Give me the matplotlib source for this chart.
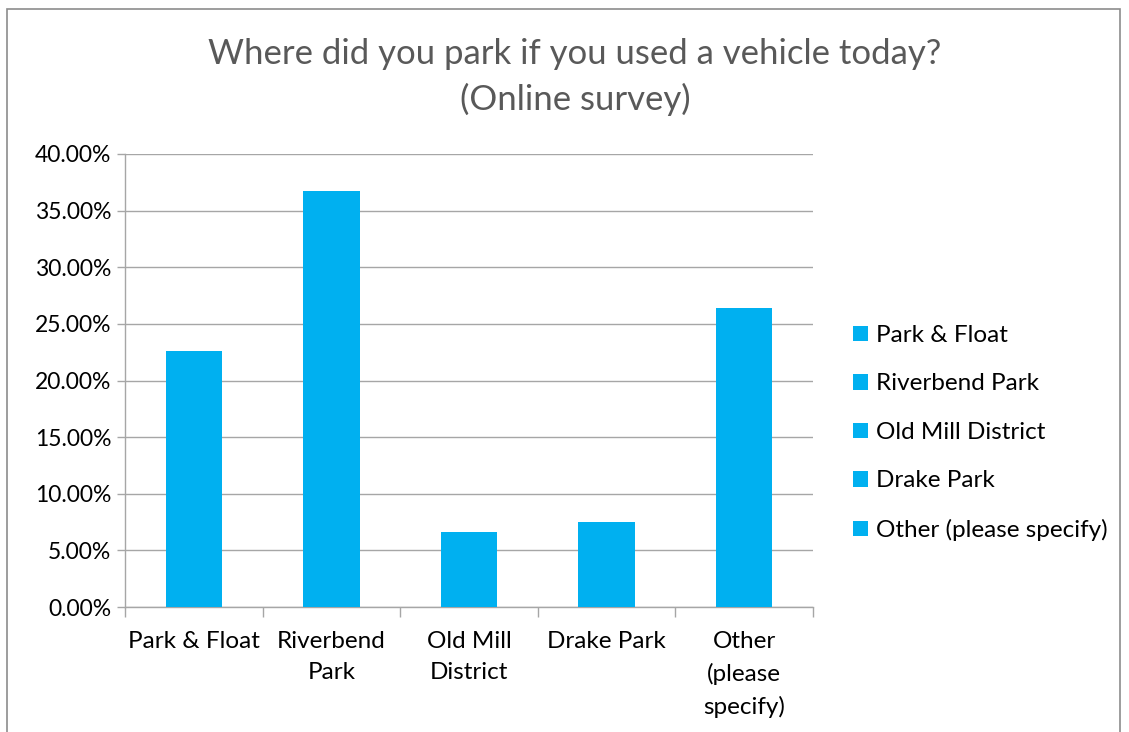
import matplotlib
matplotlib.use("Agg")
import matplotlib.pyplot as plt
from matplotlib.patches import Rectangle
from matplotlib.ticker import FuncFormatter, MultipleLocator

# survey answers (share of respondents, %)
categories = ["Park & Float", "Riverbend Park", "Old Mill District", "Drake Park", "Other (please specify)"]
tick_labels = ["Park & Float", "Riverbend\nPark", "Old Mill\nDistrict", "Drake Park", "Other\n(please\nspecify)"]
shares = [22.6, 36.7, 6.6, 7.5, 26.4]

bar_color = "#00B0F0"
grid_color = "#A6A6A6"
plt.rcParams["font.family"] = ["Lato", "DejaVu Sans"]

W, H = 1129, 732
fig = plt.figure(figsize=(W / 100, H / 100), dpi=100)
fig.patch.set_facecolor("white")

# outer chart frame
fig.add_artist(Rectangle((7 / W, -0.1), (1120 - 7) / W, 1.1 - 9 / H,
                         transform=fig.transFigure, fill=False,
                         edgecolor="#8C8C8C", linewidth=1.2))

ax = fig.add_axes([125 / W, 1 - 607 / H, (813 - 125) / W, (607 - 154) / H])
x = list(range(len(categories)))
for i, (cat, v) in enumerate(zip(categories, shares)):
    ax.bar(i, v, width=0.41, color=bar_color, label=cat, zorder=3)

ax.set_xlim(-0.5, len(categories) - 0.5)
ax.set_ylim(0, 40)
ax.yaxis.set_major_locator(MultipleLocator(5))
ax.yaxis.set_major_formatter(FuncFormatter(lambda v, p: f"{v:.2f}%"))
ax.grid(axis="y", color=grid_color, linewidth=1.0, zorder=0)

ax.set_xticks([i - 0.5 for i in range(len(categories) + 1)])
ax.set_xticklabels([])
ax.set_xticks(x, minor=True)
ax.set_xticklabels(tick_labels, minor=True, fontsize=17.5, linespacing=1.6,
                   verticalalignment="top")
ax.tick_params(axis="x", which="minor", length=0, pad=17)
ax.tick_params(axis="x", which="major", length=7, color=grid_color, width=1)
ax.tick_params(axis="y", length=6, color=grid_color, width=1, labelsize=16.5, pad=4)

for side in ["top", "right"]:
    ax.spines[side].set_visible(False)
for side in ["left", "bottom"]:
    ax.spines[side].set_color(grid_color)
    ax.spines[side].set_linewidth(1)

fig.text(575 / W, 1 - 77 / H, "Where did you park if you used a vehicle today?\n(Online survey)",
         ha="center", va="center", fontsize=25, color="#595959", linespacing=1.45)

ax.legend(loc="center left", bbox_to_anchor=(853 / W, 1 - 433 / H),
          bbox_transform=fig.transFigure, frameon=False, fontsize=17.5,
          handlelength=0.6, handleheight=0.6, handletextpad=0.35,
          labelspacing=1.13, borderpad=0, borderaxespad=0)

fig.savefig("out.png", dpi=100)
